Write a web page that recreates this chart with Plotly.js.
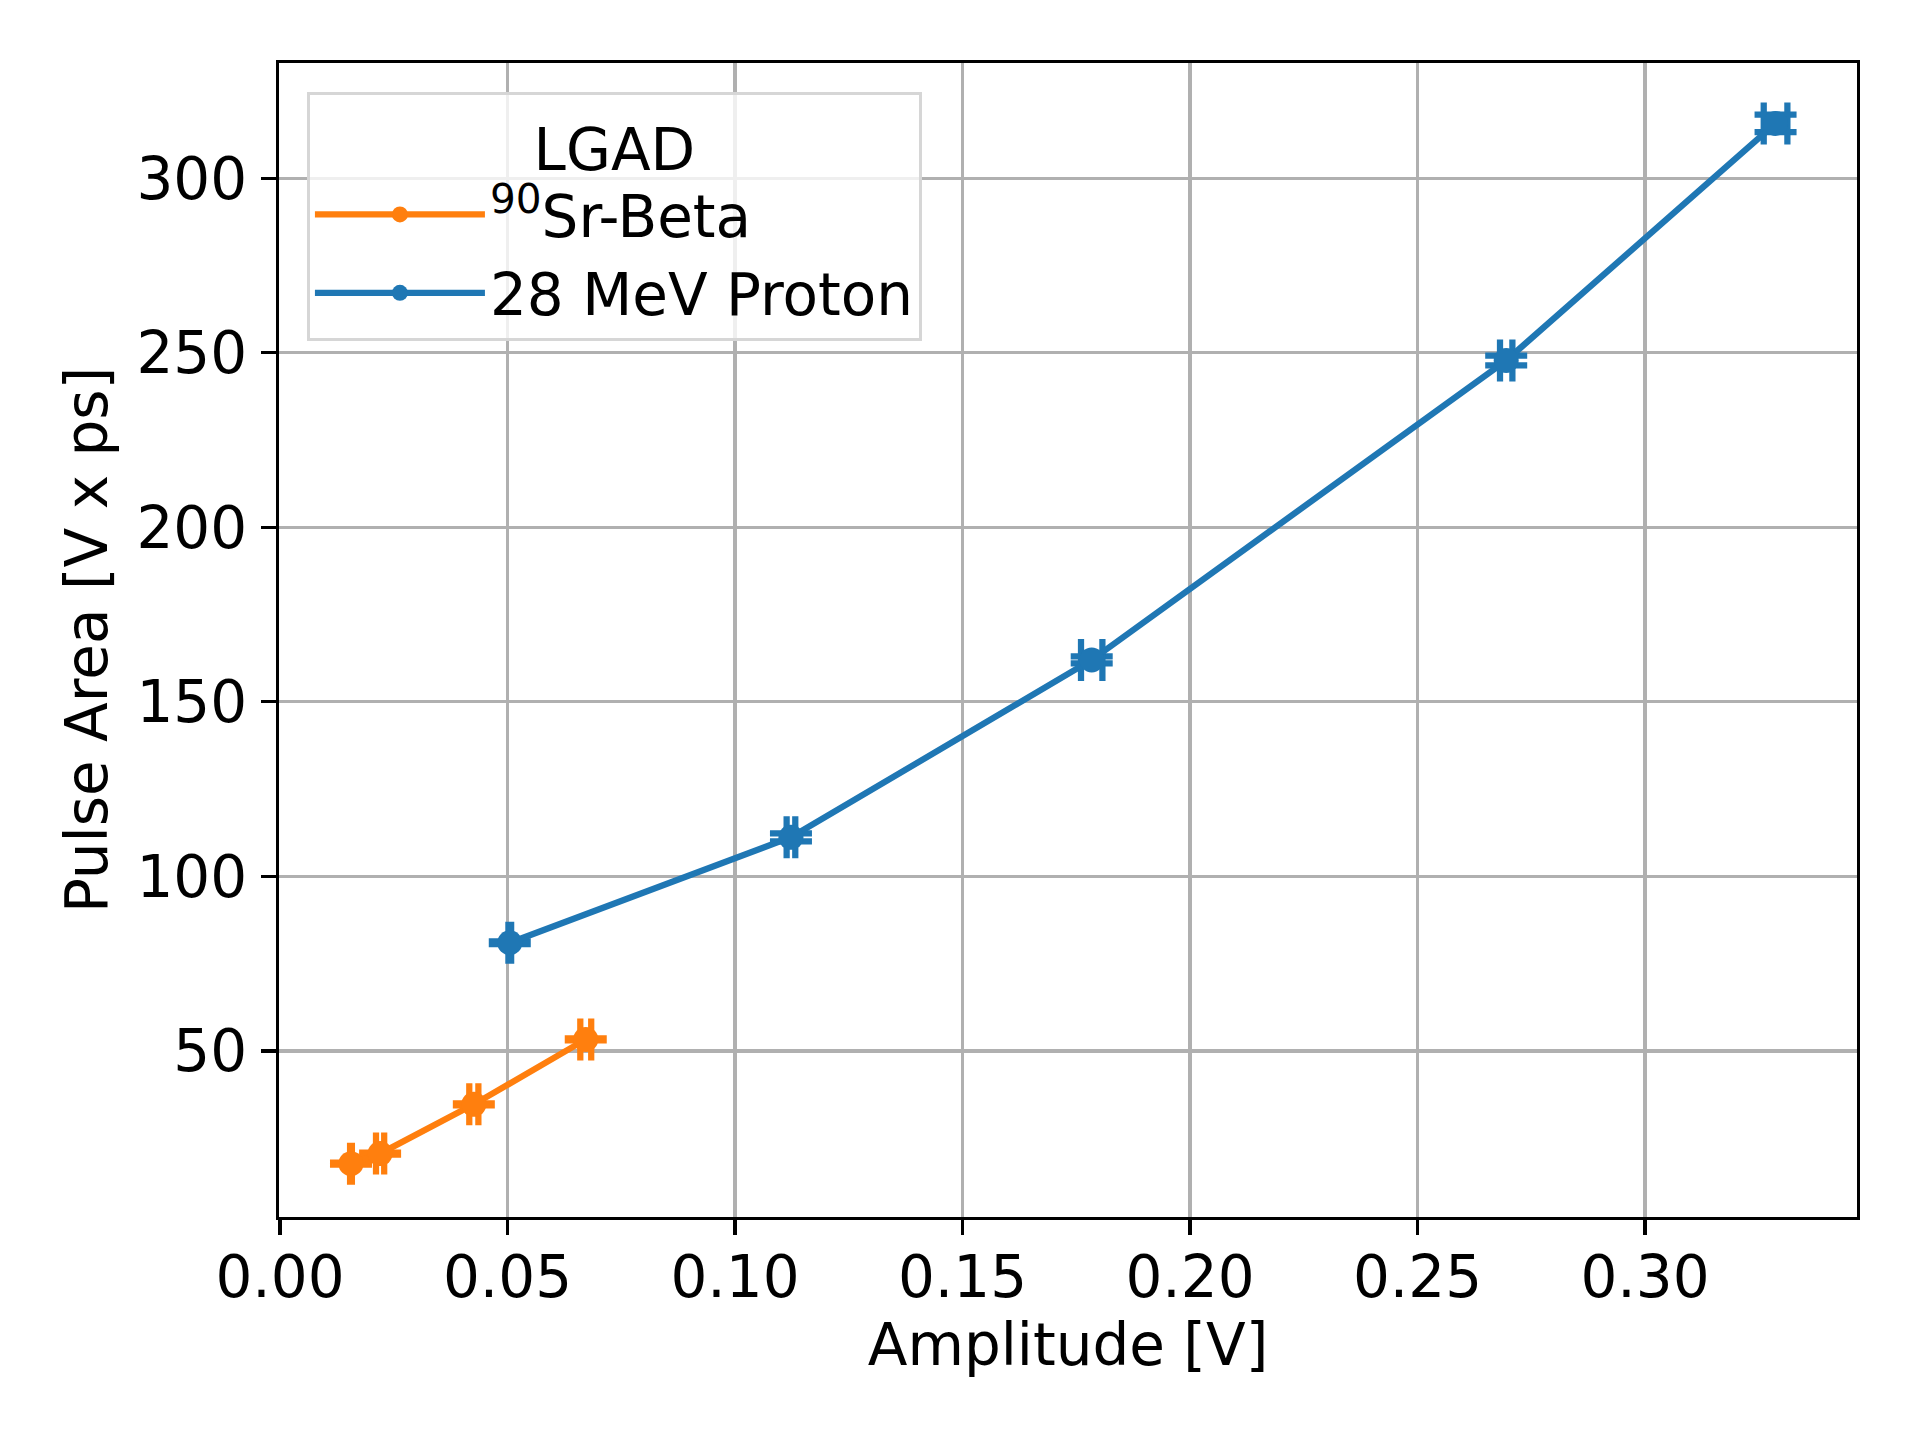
<!DOCTYPE html>
<html>
<head>
<meta charset="utf-8">
<script src="https://cdn.plot.ly/plotly-3.0.1.min.js"></script>
<style>html,body{margin:0;padding:0;background:#fff;}#chart{width:1920px;height:1440px;}</style>
</head>
<body>
<div id="chart"></div>
<script>
// Data
const srName = "<sup>90</sup>Sr-Beta";
const srAmp = [0.0156, 0.0220, 0.0426, 0.0672];
const srArea = [17.7, 20.6, 34.7, 53.3];
const srAmpErr = [0.0002, 0.0009, 0.0010, 0.0012];
const srAreaErr = [0.3, 0.3, 0.3, 0.3];

const pName = "28 MeV Proton";
const pAmp = [0.0505, 0.1123, 0.1784, 0.2695, 0.3287];
const pArea = [81.0, 111.2, 162.0, 247.8, 315.7];
const pAmpErr = [0.0003, 0.00095, 0.00235, 0.00136, 0.0026];
const pAreaErr = [0.4, 1.15, 1.0, 1.4, 2.5];

const xTicks = [0.00, 0.05, 0.10, 0.15, 0.20, 0.25, 0.30];
const yTicks = [50, 100, 150, 200, 250, 300];

const FONT = "DejaVu Sans, Liberation Sans, sans-serif";
const LW = 6.25, CAP = 21, MS = 25;

function trace(name, x, y, ex, ey, color) {
  return {
    type: 'scatter', mode: 'lines+markers', name: name, x: x, y: y,
    line: {color: color, width: LW},
    marker: {color: color, size: MS},
    error_x: {type: 'data', array: ex, visible: true, color: color, thickness: LW, width: CAP},
    error_y: {type: 'data', array: ey, visible: true, color: color, thickness: LW, width: CAP}
  };
}

const data = [
  trace(srName, srAmp, srArea, srAmpErr, srAreaErr, '#ff7f0e'),
  trace(pName, pAmp, pArea, pAmpErr, pAreaErr, '#1f77b4')
];

const axisCommon = {
  showline: true, mirror: true, linecolor: '#000', linewidth: 3.3,
  ticks: 'outside', ticklen: 15, tickwidth: 3.3, tickcolor: '#000',
  showgrid: true, gridcolor: '#b0b0b0', gridwidth: 3.3,
  zeroline: false,
  tickfont: {family: FONT, size: 58, color: '#000'}
};

const layout = {
  width: 1920, height: 1440,
  paper_bgcolor: '#fff', plot_bgcolor: '#fff',
  margin: {l: 279, r: 63, t: 63, b: 223},
  font: {family: FONT, size: 58, color: '#000'},
  xaxis: Object.assign({}, axisCommon, {
    range: [-0.00022, 0.3466],
    tickmode: 'array', tickvals: xTicks,
    ticktext: xTicks.map(v => v.toFixed(2)),
    ticklabelstandoff: -8,
    title: {text: 'Amplitude [V]', font: {family: FONT, size: 58, color: '#000'}, standoff: 14}
  }),
  yaxis: Object.assign({}, axisCommon, {
    range: [2.43, 333.0],
    tickmode: 'array', tickvals: yTicks,
    ticktext: yTicks.map(v => String(v)),
    ticklabelstandoff: 2,
    title: {text: 'Pulse Area [V x ps]', font: {family: FONT, size: 58, color: '#000'}, standoff: 11}
  }),
  showlegend: true,
  legend: {
    x: 0.0177, y: 0.975, xanchor: 'left', yanchor: 'top',
    bgcolor: 'rgba(255,255,255,0.8)', bordercolor: '#d6d6d6', borderwidth: 3,
    font: {family: FONT, size: 58, color: '#000'},
    title: {text: 'LGAD', side: 'top center', font: {family: FONT, size: 58, color: '#000'}},
    itemwidth: 170
  }
};

Plotly.newPlot('chart', data, layout, {displayModeBar: false, staticPlot: true});
</script>
</body>
</html>
